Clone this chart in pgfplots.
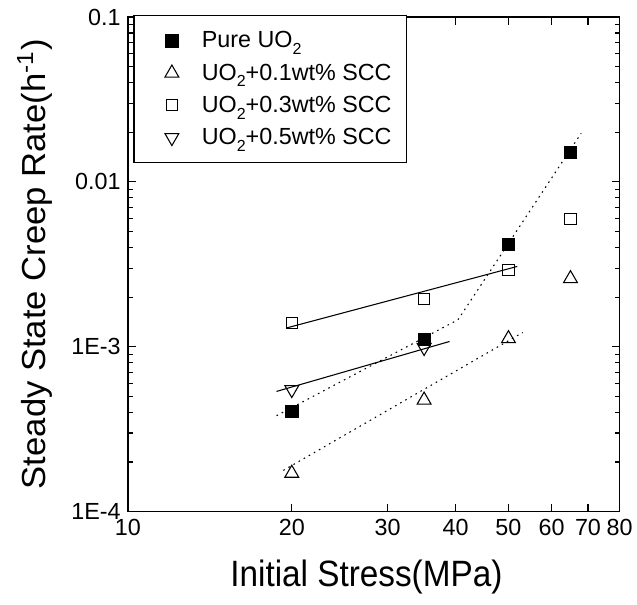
\documentclass[border=0pt]{standalone}
\usepackage{fontspec}
\setmainfont{Liberation Sans}
\usepackage{graphicx}
\usepackage{pgfplots}
\pgfplotsset{compat=1.18}
\newcommand\sub[1]{\raisebox{-0.55ex}{\fontsize{12}{13}\selectfont #1}}

\begin{document}
\begin{tikzpicture}
  \begin{axis}[%
    scale only axis, width=369pt, height=371.25pt,
    xmode=log, ymode=log,
    xmin=10, xmax=80, ymin=1e-4, ymax=0.1,
    xtick={10,20,30,40,50,60,70,80},
    xticklabels={10,20,30,40,50,60,70,80},
    minor xtick={},
    ytick={1e-4,1e-3,1e-2,1e-1},
    yticklabels={1E-4,1E-3,0.01,0.1},
    minor ytick={2e-4,3e-4,4e-4,5e-4,6e-4,7e-4,8e-4,9e-4,
                 2e-3,3e-3,4e-3,5e-3,6e-3,7e-3,8e-3,9e-3,
                 2e-2,3e-2,4e-2,5e-2,6e-2,7e-2,8e-2,9e-2},
    tick align=inside,
    major tick length=6pt, minor tick length=3.5pt,
    tick style={black, line width=0.9pt},
    axis line style={line width=1.1pt},
    tick label style={font=\fontsize{17.5}{20}\selectfont},
    xticklabel style={yshift=-2pt},
    yticklabel style={xshift=-2pt},
    label style={font=\fontsize{25}{28}\selectfont},
    xlabel={\scalebox{1}[1.1]{Initial Stress(MPa)}},
    ylabel={\scalebox{1.04}[1]{Steady State Creep Rate(h\textsuperscript{-1})}},
    xlabel style={at={(axis description cs:0.485,-0.133)}, anchor=center},
    ylabel style={at={(axis description cs:-0.19,0.5)}, anchor=center},
    legend style={at={(axis description cs:0,1)}, anchor=north west,
      xshift=4pt, yshift=1.5pt, draw=black, line width=1pt,
      font=\fontsize{17.5}{20}\selectfont,
      inner xsep=9pt, inner ysep=10pt, row sep=6.5pt},
    legend cell align=left,
    legend image code/.code={%
      \path (-19pt,0pt) (20pt,0pt);
      \draw[#1] plot coordinates {(0pt,0pt)};},
    ]
    % fitted lines
    \addplot[forget plot, black, line width=0.8pt, dash pattern=on 1.2pt off 3.2pt]
      coordinates {(18.75,3.82e-4) (40.4,1.46e-3) (68.0,0.0197)};
    \addplot[forget plot, black, line width=0.8pt, dash pattern=on 1.2pt off 3.2pt]
      coordinates {(19.3,1.78e-4) (53.1,1.22e-3)};
    \addplot[forget plot, black, line width=0.8pt]
      coordinates {(19.55,1.30e-3) (51.9,3.07e-3)};
    \addplot[forget plot, black, line width=0.8pt]
      coordinates {(18.75,5.36e-4) (38.98,1.077e-3)};

    % measured points
    \addplot[only marks, mark=square*, mark size=4.6pt, black] coordinates {
      (20,4.05e-4) (35,1.11e-3) (50,4.2e-3) (65,0.0152)
    };
    \addplot[only marks, mark=triangle, mark size=6pt, black, mark options={line width=0.8pt}] coordinates {
      (20,1.71e-4) (35,4.75e-4) (50,1.12e-3) (65,2.59e-3)
    };
    \addplot[only marks, mark=square, mark size=4.2pt, black, mark options={line width=0.8pt}] coordinates {
      (20,1.40e-3) (35,1.95e-3) (50,2.93e-3) (65,5.97e-3)
    };
    \addplot[only marks, mark=triangle, mark size=6pt, black, mark options={rotate=180, line width=0.8pt}] coordinates {
      (20,5.5e-4) (35,9.9e-4)
    };
    \legend{Pure UO\sub{2},
            UO\sub{2}+0.1wt\% SCC,
            UO\sub{2}+0.3wt\% SCC,
            UO\sub{2}+0.5wt\% SCC}
  \end{axis}
  \path ([xshift=-96pt,yshift=-69.75pt]current axis.south west)
    rectangle ([xshift=12.75pt,yshift=12.75pt]current axis.north east);
\end{tikzpicture}
\end{document}
